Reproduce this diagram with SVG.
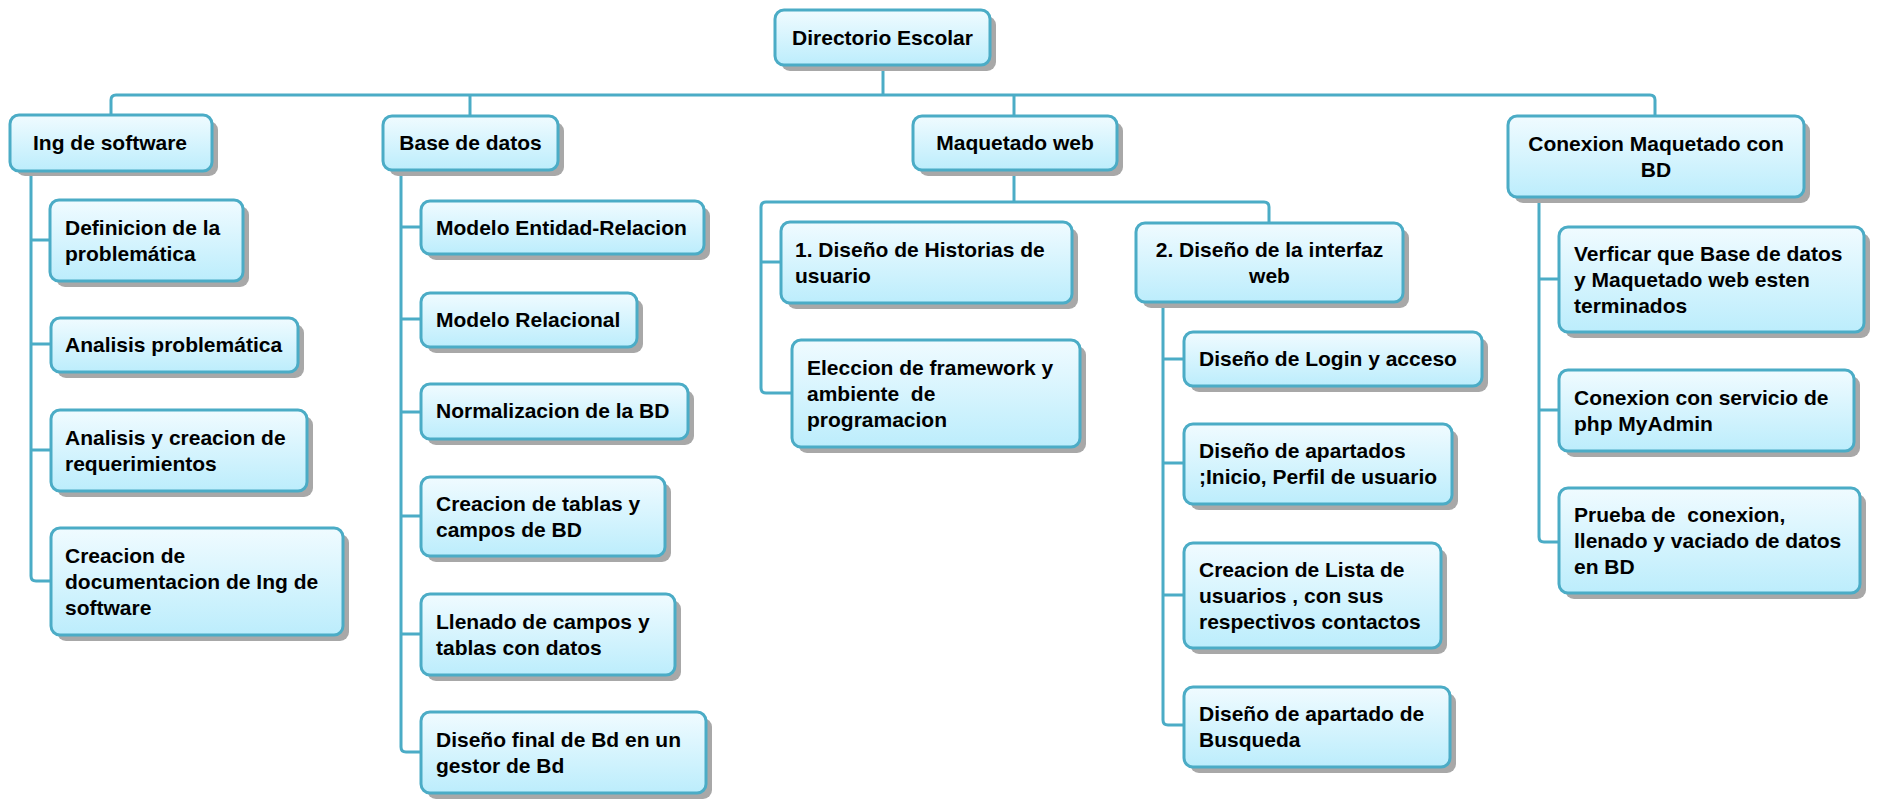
<svg xmlns="http://www.w3.org/2000/svg" width="1882" height="811" viewBox="0 0 1882 811">
<defs>
<linearGradient id="g" x1="0" y1="0" x2="0" y2="1">
<stop offset="0" stop-color="#F0FBFF"/>
<stop offset="1" stop-color="#BCEDFC"/>
</linearGradient>
</defs>
<style>
.sh{fill:#A8A8A8}
.bx{fill:url(#g);stroke:#4BACC6;stroke-width:3}
.t{font-family:"Liberation Sans",Arial,sans-serif;font-weight:bold;font-size:21px;fill:#000;white-space:pre}
.c{text-anchor:middle}
.ln{fill:none;stroke:#4BACC6;stroke-width:3}
</style>
<rect width="1882" height="811" fill="#fff"/>
<g id="connectors">
<path class="ln" d="M883,65 V95"/>
<path class="ln" d="M111,116 V100 Q111,95 116,95 H1650 Q1655,95 1655,100 V116"/>
<path class="ln" d="M470,95 V116"/>
<path class="ln" d="M1014,95 V116"/>
<path class="ln" d="M31,171 V576 Q31,581 36,581 H51"/>
<path class="ln" d="M31,240 H50 M31,344 H51 M31,450 H51"/>
<path class="ln" d="M401,170 V747 Q401,752 406,752 H421"/>
<path class="ln" d="M401,227 H421 M401,319 H421 M401,412 H421 M401,516 H421 M401,634 H421"/>
<path class="ln" d="M1014,170 V202"/>
<path class="ln" d="M792,393 H766 Q761,393 761,388 V207 Q761,202 766,202 H1264 Q1269,202 1269,207 V223"/>
<path class="ln" d="M761,262 H781"/>
<path class="ln" d="M1163,302 V720 Q1163,725 1168,725 H1184"/>
<path class="ln" d="M1163,359 H1184 M1163,463 H1184 M1163,595 H1184"/>
<path class="ln" d="M1539,197 V537 Q1539,542 1544,542 H1559"/>
<path class="ln" d="M1539,279 H1559 M1539,410 H1559"/>
</g>
<g id="root">
<rect class="sh" x="781" y="16" width="215" height="55" rx="9"/>
<rect class="bx" x="775" y="10" width="215" height="55" rx="9"/>
<text class="t c" x="882.5" y="45">Directorio Escolar</text>
</g>
<g id="ing">
<rect class="sh" x="16" y="121" width="202" height="55" rx="9"/>
<rect class="bx" x="10" y="115" width="202" height="56" rx="9"/>
<text class="t c" x="110" y="150">Ing de software</text>
</g>
<g id="base">
<rect class="sh" x="389" y="122" width="175" height="54" rx="9"/>
<rect class="bx" x="383" y="116" width="175" height="54" rx="9"/>
<text class="t c" x="470.5" y="150">Base de datos</text>
</g>
<g id="maquetado">
<rect class="sh" x="919" y="122" width="204" height="54" rx="9"/>
<rect class="bx" x="913" y="116" width="204" height="54" rx="9"/>
<text class="t c" x="1015" y="150">Maquetado web</text>
</g>
<g id="conexion">
<rect class="sh" x="1514" y="122" width="296" height="81" rx="9"/>
<rect class="bx" x="1508" y="116" width="296" height="81" rx="9"/>
<text class="t c" x="1656" y="151">Conexion Maquetado con</text>
<text class="t c" x="1656" y="177">BD</text>
</g>
<g id="definicion">
<rect class="sh" x="56" y="206" width="193" height="81" rx="9"/>
<rect class="bx" x="50" y="200" width="193" height="81" rx="9"/>
<text class="t" x="65" y="235">Definicion de la</text>
<text class="t" x="65" y="261">problemática</text>
</g>
<g id="analisis-problematica">
<rect class="sh" x="57" y="324" width="247" height="54" rx="9"/>
<rect class="bx" x="51" y="318" width="247" height="54" rx="9"/>
<text class="t" x="65" y="352">Analisis problemática</text>
</g>
<g id="analisis-requerimientos">
<rect class="sh" x="57" y="416" width="256" height="81" rx="9"/>
<rect class="bx" x="51" y="410" width="256" height="81" rx="9"/>
<text class="t" x="65" y="445">Analisis y creacion de</text>
<text class="t" x="65" y="471">requerimientos</text>
</g>
<g id="documentacion">
<rect class="sh" x="57" y="534" width="292" height="107" rx="9"/>
<rect class="bx" x="51" y="528" width="292" height="107" rx="9"/>
<text class="t" x="65" y="563">Creacion de</text>
<text class="t" x="65" y="589">documentacion de Ing de</text>
<text class="t" x="65" y="615">software</text>
</g>
<g id="entidad-relacion">
<rect class="sh" x="427" y="207" width="283" height="53" rx="9"/>
<rect class="bx" x="421" y="201" width="283" height="53" rx="9"/>
<text class="t" x="436" y="235">Modelo Entidad-Relacion</text>
</g>
<g id="relacional">
<rect class="sh" x="427" y="299" width="216" height="54" rx="9"/>
<rect class="bx" x="421" y="293" width="216" height="54" rx="9"/>
<text class="t" x="436" y="327">Modelo Relacional</text>
</g>
<g id="normalizacion">
<rect class="sh" x="427" y="390" width="267" height="55" rx="9"/>
<rect class="bx" x="421" y="384" width="267" height="55" rx="9"/>
<text class="t" x="436" y="418">Normalizacion de la BD</text>
</g>
<g id="tablas">
<rect class="sh" x="427" y="483" width="244" height="79" rx="9"/>
<rect class="bx" x="421" y="477" width="244" height="79" rx="9"/>
<text class="t" x="436" y="511">Creacion de tablas y</text>
<text class="t" x="436" y="537">campos de BD</text>
</g>
<g id="llenado">
<rect class="sh" x="427" y="600" width="254" height="81" rx="9"/>
<rect class="bx" x="421" y="594" width="254" height="81" rx="9"/>
<text class="t" x="436" y="629">Llenado de campos y</text>
<text class="t" x="436" y="655">tablas con datos</text>
</g>
<g id="diseno-final">
<rect class="sh" x="427" y="718" width="285" height="81" rx="9"/>
<rect class="bx" x="421" y="712" width="285" height="81" rx="9"/>
<text class="t" x="436" y="747">Diseño final de Bd en un</text>
<text class="t" x="436" y="773">gestor de Bd</text>
</g>
<g id="historias">
<rect class="sh" x="787" y="228" width="291" height="81" rx="9"/>
<rect class="bx" x="781" y="222" width="291" height="81" rx="9"/>
<text class="t" x="795" y="257">1. Diseño de Historias de</text>
<text class="t" x="795" y="283">usuario</text>
</g>
<g id="framework">
<rect class="sh" x="798" y="346" width="288" height="107" rx="9"/>
<rect class="bx" x="792" y="340" width="288" height="107" rx="9"/>
<text class="t" x="807" y="375">Eleccion de framework y</text>
<text class="t" x="807" y="401">ambiente  de</text>
<text class="t" x="807" y="427">programacion</text>
</g>
<g id="interfaz">
<rect class="sh" x="1142" y="229" width="267" height="79" rx="9"/>
<rect class="bx" x="1136" y="223" width="267" height="79" rx="9"/>
<text class="t c" x="1269.5" y="257">2. Diseño de la interfaz</text>
<text class="t c" x="1269.5" y="283">web</text>
</g>
<g id="login">
<rect class="sh" x="1190" y="338" width="298" height="54" rx="9"/>
<rect class="bx" x="1184" y="332" width="298" height="54" rx="9"/>
<text class="t" x="1199" y="366">Diseño de Login y acceso</text>
</g>
<g id="apartados">
<rect class="sh" x="1190" y="430" width="268" height="80" rx="9"/>
<rect class="bx" x="1184" y="424" width="268" height="80" rx="9"/>
<text class="t" x="1199" y="458">Diseño de apartados</text>
<text class="t" x="1199" y="484">;Inicio, Perfil de usuario</text>
</g>
<g id="lista">
<rect class="sh" x="1190" y="549" width="257" height="105" rx="9"/>
<rect class="bx" x="1184" y="543" width="257" height="105" rx="9"/>
<text class="t" x="1199" y="577">Creacion de Lista de</text>
<text class="t" x="1199" y="603">usuarios , con sus</text>
<text class="t" x="1199" y="629">respectivos contactos</text>
</g>
<g id="busqueda">
<rect class="sh" x="1190" y="693" width="266" height="80" rx="9"/>
<rect class="bx" x="1184" y="687" width="266" height="80" rx="9"/>
<text class="t" x="1199" y="721">Diseño de apartado de</text>
<text class="t" x="1199" y="747">Busqueda</text>
</g>
<g id="verficar">
<rect class="sh" x="1565" y="233" width="305" height="105" rx="9"/>
<rect class="bx" x="1559" y="227" width="305" height="105" rx="9"/>
<text class="t" x="1574" y="261">Verficar que Base de datos</text>
<text class="t" x="1574" y="287">y Maquetado web esten</text>
<text class="t" x="1574" y="313">terminados</text>
</g>
<g id="servicio">
<rect class="sh" x="1565" y="376" width="295" height="81" rx="9"/>
<rect class="bx" x="1559" y="370" width="295" height="81" rx="9"/>
<text class="t" x="1574" y="405">Conexion con servicio de</text>
<text class="t" x="1574" y="431">php MyAdmin</text>
</g>
<g id="prueba">
<rect class="sh" x="1565" y="494" width="301" height="105" rx="9"/>
<rect class="bx" x="1559" y="488" width="301" height="105" rx="9"/>
<text class="t" x="1574" y="522">Prueba de  conexion,</text>
<text class="t" x="1574" y="548">llenado y vaciado de datos</text>
<text class="t" x="1574" y="574">en BD</text>
</g>
</svg>
